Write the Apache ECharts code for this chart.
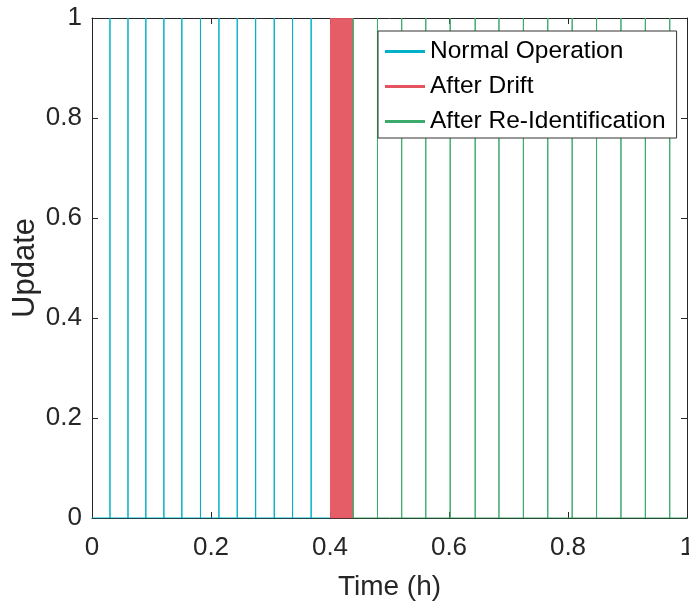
<!DOCTYPE html>
<html>
<head>
<meta charset="utf-8">
<script src="https://cdn.jsdelivr.net/npm/echarts@6/dist/echarts.min.js"></script>
<style>
  html, body { margin: 0; padding: 0; background: #fff; }
  #chart { width: 689px; height: 614px; }
</style>
</head>
<body>
<div id="chart"></div>
<script>
// Update instants (h) for each operating phase
const normalTimes = [0.0302, 0.0605, 0.0905, 0.1208, 0.151, 0.1823, 0.2133, 0.2441, 0.275, 0.3063, 0.3371, 0.3683];
const normalSpan = [0, 0.4];
const driftSpan = [0.4, 0.439];
const reidTimes = [0.439, 0.4798, 0.5205, 0.561, 0.602, 0.644, 0.684, 0.725, 0.766, 0.807, 0.848, 0.889, 0.930, 0.971];
const reidSpan = [0.439, 1];
const tickValues = [0, 0.2, 0.4, 0.6, 0.8, 1];
const seriesNames = ['Normal Operation', 'After Drift', 'After Re-Identification'];
const colors = ['#00b0c8', '#e4545f', '#3caa6a'];

// Update signal: 0 between updates, a spike to 1 at each update instant
function spikes(times, span) {
  const pts = [[span[0], 0]];
  times.forEach(t => { pts.push([t, 0], [t, 1], [t, 0]); });
  pts.push([span[1], 0]);
  return pts;
}

const axisColor = '#262626';
const font = 'Liberation Sans, Helvetica, Arial, sans-serif';
const fmt = v => String(+v.toFixed(2));

const chart = echarts.init(document.getElementById('chart'));
chart.setOption({
  animation: false,
  grid: { left: 92, right: 2, top: 18, bottom: 96, containLabel: false, outerBoundsMode: 'none' },
  legend: {
    orient: 'vertical',
    left: 378, top: 31,
    padding: [8, 11, 4, 7],
    itemGap: 10,
    itemWidth: 40, itemHeight: 3,
    icon: 'rect',
    backgroundColor: '#fff',
    borderColor: '#333',
    borderWidth: 1,
    borderRadius: 0,
    textStyle: { fontFamily: font, fontSize: 24.5, color: '#000' },
    data: seriesNames
  },
  xAxis: [{
    type: 'value', min: 0, max: 1, interval: 0.2,
    name: 'Time (h)', nameLocation: 'middle', nameGap: 55, nameMoveOverlap: false,
    nameTextStyle: { fontFamily: font, fontSize: 28, color: axisColor },
    axisLine: { onZero: false, lineStyle: { color: axisColor, width: 1 } },
    axisTick: { inside: true, length: 6, lineStyle: { color: axisColor } },
    axisLabel: { fontFamily: font, fontSize: 26, color: axisColor, margin: 17,
      formatter: v => tickValues.includes(+v.toFixed(2)) ? fmt(v) : '' },
    splitLine: { show: false }
  }, {
    type: 'value', min: 0, max: 1, interval: 0.2, position: 'top',
    axisLine: { onZero: false, lineStyle: { color: axisColor, width: 1 } },
    axisTick: { inside: true, length: 6, lineStyle: { color: axisColor } },
    axisLabel: { show: false },
    splitLine: { show: false }
  }],
  yAxis: [{
    type: 'value', min: 0, max: 1, interval: 0.2,
    name: 'Update', nameLocation: 'middle', nameGap: 51, nameMoveOverlap: false,
    nameTextStyle: { fontFamily: font, fontSize: 31, color: axisColor },
    axisLine: { show: true, onZero: false, lineStyle: { color: axisColor, width: 1 } },
    axisTick: { show: true, inside: true, length: 6, lineStyle: { color: axisColor } },
    axisLabel: { fontFamily: font, fontSize: 26, color: axisColor, margin: 10, formatter: fmt },
    splitLine: { show: false }
  }, {
    type: 'value', min: 0, max: 1, interval: 0.2, position: 'right',
    axisLine: { show: true, onZero: false, lineStyle: { color: axisColor, width: 1 } },
    axisTick: { show: true, inside: true, length: 6, lineStyle: { color: axisColor } },
    axisLabel: { show: false },
    splitLine: { show: false }
  }],
  series: [{
    name: seriesNames[0], type: 'line', symbol: 'none',
    data: spikes(normalTimes, normalSpan),
    lineStyle: { color: colors[0], width: 1 }, itemStyle: { color: colors[0] }
  }, {
    name: seriesNames[1], type: 'line', symbol: 'none',
    data: [[driftSpan[0], 0], [driftSpan[1], 0]],
    lineStyle: { color: colors[1], width: 1 }, itemStyle: { color: colors[1] },
    markArea: {
      silent: true,
      itemStyle: { color: colors[1], opacity: 0.95 },
      data: [[{ xAxis: driftSpan[0], yAxis: 0 }, { xAxis: driftSpan[1], yAxis: 1 }]]
    }
  }, {
    name: seriesNames[2], type: 'line', symbol: 'none',
    data: spikes(reidTimes, reidSpan),
    lineStyle: { color: colors[2], width: 1 }, itemStyle: { color: colors[2] }
  }]
});
</script>
</body>
</html>
